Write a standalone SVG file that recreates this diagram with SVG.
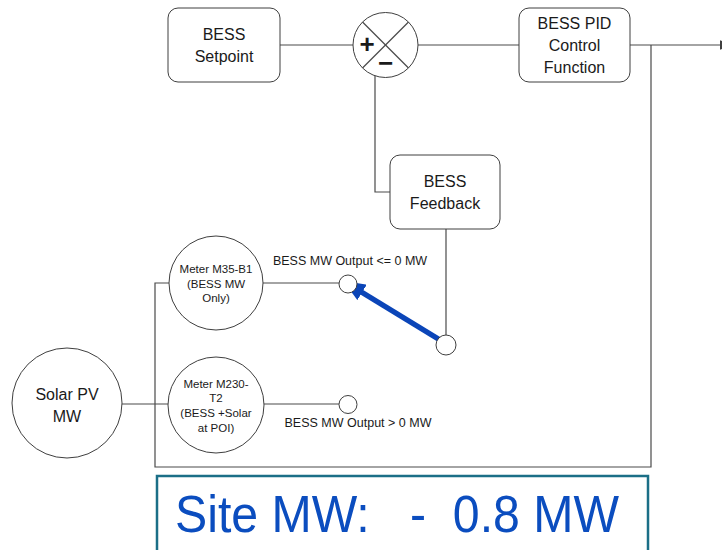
<svg xmlns="http://www.w3.org/2000/svg" width="722" height="550" viewBox="0 0 722 550">
<style>
.box{fill:#fff;stroke:#3f3f3f;stroke-width:1}
.ln{fill:none;stroke:#4a4a4a;stroke-width:1.2}
.t{font-family:"Liberation Sans",Arial,sans-serif;fill:#1a1a1a;text-anchor:middle}
.b{font-size:16px}
.s{font-size:11.5px}
.m{font-size:12.5px}
</style>
<defs>
<marker id="endArrow" markerUnits="userSpaceOnUse" markerWidth="12" markerHeight="12" refX="10" refY="5" orient="auto" viewBox="0 0 10 10">
<path d="M0,1 L10,5 L0,9 Z" fill="#3f3f3f"/>
</marker>
<marker id="blueArrow" markerUnits="userSpaceOnUse" markerWidth="22" markerHeight="18" refX="20" refY="9" orient="auto" viewBox="0 0 22 18">
<path d="M0,0 L22,9 L0,18 Z" fill="#0b45b8"/>
</marker>
</defs>

<g id="connectors">
<line class="ln" x1="280" y1="45" x2="353" y2="45"/>
<line class="ln" x1="418" y1="45" x2="519" y2="45"/>
<line class="ln" x1="630" y1="45" x2="732" y2="45" marker-end="url(#endArrow)"/>
<path class="ln" d="M375 76 V192 H390"/>
<line class="ln" x1="446" y1="229" x2="446" y2="335"/>
<path class="ln" d="M651 45 V467 H155 V283 H169"/>
<line class="ln" x1="263" y1="283" x2="339" y2="283"/>
<line class="ln" x1="122" y1="404" x2="168" y2="404"/>
<line class="ln" x1="264" y1="404" x2="339" y2="404"/>
<line x1="440" y1="340" x2="345" y2="282" stroke="#0b45b8" stroke-width="5.5" marker-end="url(#blueArrow)"/>
</g>

<g id="bess-setpoint">
<rect class="box" x="168" y="8" width="112" height="74" rx="10"/>
<text class="t b" x="224" y="40">BESS</text>
<text class="t b" x="224" y="62">Setpoint</text>
</g>

<g id="summing-junction">
<circle class="box" cx="385.5" cy="45" r="32.5"/>
<line class="ln" x1="362.5" y1="22" x2="408.5" y2="68"/>
<line class="ln" x1="408.5" y1="22" x2="362.5" y2="68"/>
<text class="t" x="367" y="53" style="font-size:26px;font-weight:bold">+</text>
<text class="t" x="385.5" y="72" style="font-size:26px;font-weight:bold">−</text>
</g>

<g id="bess-pid">
<rect class="box" x="519" y="8" width="111" height="74" rx="10"/>
<text class="t b" x="574.5" y="29">BESS PID</text>
<text class="t b" x="574.5" y="51">Control</text>
<text class="t b" x="574.5" y="73">Function</text>
</g>

<g id="bess-feedback">
<rect class="box" x="390" y="155" width="110" height="74" rx="10"/>
<text class="t b" x="445" y="187">BESS</text>
<text class="t b" x="445" y="209">Feedback</text>
</g>

<g id="meter-m35">
<circle class="box" cx="216" cy="283" r="47"/>
<text class="t s" x="216" y="273">Meter M35-B1</text>
<text class="t s" x="216" y="288">(BESS MW</text>
<text class="t s" x="216" y="302">Only)</text>
</g>

<g id="contact-upper">
<circle class="box" cx="348" cy="284" r="9"/>
<text class="t m" x="350" y="265">BESS MW Output &lt;= 0 MW</text>
</g>

<g id="contact-switch">
<circle class="box" cx="446" cy="345" r="10"/>
</g>

<g id="solar-pv">
<circle class="box" cx="67" cy="403" r="55"/>
<text class="t b" x="67" y="400">Solar PV</text>
<text class="t b" x="67" y="422">MW</text>
</g>

<g id="meter-m230">
<circle class="box" cx="216" cy="405" r="48"/>
<text class="t s" x="216" y="388">Meter M230-</text>
<text class="t s" x="216" y="402">T2</text>
<text class="t s" x="216" y="417">(BESS +Solar</text>
<text class="t s" x="216" y="432">at POI)</text>
</g>

<g id="contact-lower">
<circle class="box" cx="348" cy="404.5" r="9"/>
<text class="t m" x="358" y="427">BESS MW Output &gt; 0 MW</text>
</g>

<g id="site-mw">
<rect x="157" y="476" width="491" height="90" fill="#fff" stroke="#1b6f87" stroke-width="2.5"/>
<text x="175" y="532" textLength="444" lengthAdjust="spacingAndGlyphs" style="font-family:'Liberation Sans',Arial,sans-serif;font-size:52px;fill:#0b4dbf;white-space:pre">Site MW:   -  0.8 MW</text>
</g>
</svg>
